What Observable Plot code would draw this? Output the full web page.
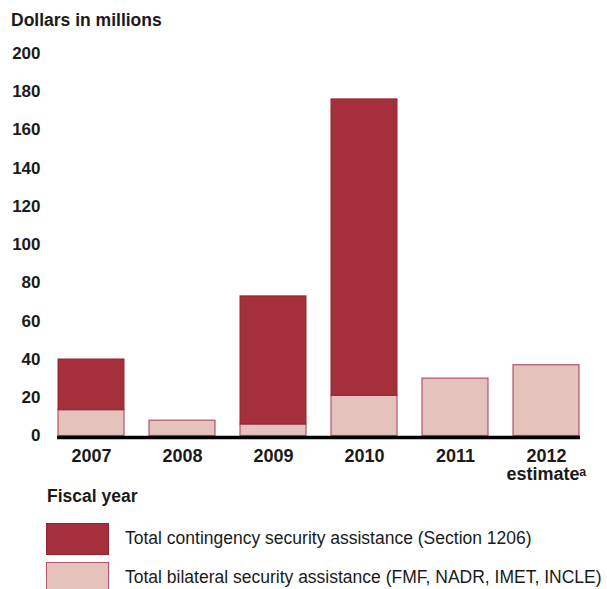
<!DOCTYPE html>
<html>
<head>
<meta charset="utf-8">
<script src="https://cdn.jsdelivr.net/npm/d3@7"></script>
<script src="https://cdn.jsdelivr.net/npm/@observablehq/plot@0.6"></script>
<style>
  body { margin: 0; background: #fff; }
  #wrap { position: relative; width: 607px; height: 589px; overflow: hidden; font-family: "Liberation Sans", Arial, sans-serif; color: #1a1a1a; }
  .abs { position: absolute; white-space: nowrap; }
  .bold { font-weight: bold; font-size: 17.5px; line-height: 17.5px; }
  .leg { font-size: 17.5px; line-height: 17.5px; }
  .sw { position: absolute; box-sizing: border-box; width: 63px; height: 32px; }
</style>
</head>
<body>
<div id="wrap">
  <div class="abs bold" style="left:11px; top:12px;">Dollars in millions</div>
  <div id="chart" class="abs" style="left:0; top:35px;"></div>
  <div class="abs bold" style="left:47px; top:488px;">Fiscal year</div>
  <div class="sw" style="left:46px; top:523px; background:#a3303b; border:1px solid #942631;"></div>
  <div class="abs leg" style="left:125px; top:530px;">Total contingency security assistance (Section 1206)</div>
  <div class="sw" style="left:46px; top:562px; background:#e5c2bb; border:1.5px solid #b0566a;"></div>
  <div class="abs leg" style="left:125px; top:569px;">Total bilateral security assistance (FMF, NADR, IMET, INCLE)</div>
</div>
<script>
const years = ["2007", "2008", "2009", "2010", "2011", "2012"];
const yearLabels = ["2007", "2008", "2009", "2010", "2011", "2012\nestimate\u1D43"];
const bilateral = [13.5, 8, 6, 21, 30, 37];
const contingency = [26.5, 0, 67, 155, 0, 0];
const yTicks = [0, 20, 40, 60, 80, 100, 120, 140, 160, 180, 200];

const table = years.map((year, i) => ({year, bilateral: bilateral[i], contingency: contingency[i]}));

const chart = Plot.plot({
  width: 607,
  height: 451,
  marginLeft: 57,
  marginRight: 27,
  marginTop: 18,
  marginBottom: 50.5,
  style: {fontFamily: "'Liberation Sans', Arial, sans-serif", color: "#1a1a1a", background: "transparent"},
  x: {domain: years, paddingInner: 0.28, paddingOuter: 0},
  y: {domain: [0, 200]},
  marks: [
    Plot.barY(table, {x: "year", y1: 0, y2: "bilateral", fill: "#e5c2bb", stroke: "#b0566a", strokeWidth: 1.2}),
    Plot.barY(table.filter(d => d.contingency > 0), {x: "year", y1: "bilateral", y2: d => d.bilateral + d.contingency, fill: "#a3303b", stroke: "#942631", strokeWidth: 1}),
    Plot.ruleY([0], {stroke: "black", strokeWidth: 3.5, dy: 1.5}),
    Plot.axisY({ticks: yTicks, tickSize: 0, tickPadding: 17, fontSize: 17, fontWeight: "bold", label: null}),
    Plot.axisX({tickSize: 0, tickPadding: 13, fontSize: 18, fontWeight: "bold", lineHeight: 1, label: null,
      tickFormat: d => yearLabels[years.indexOf(d)]})
  ]
});
document.getElementById("chart").appendChild(chart);
</script>
</body>
</html>
